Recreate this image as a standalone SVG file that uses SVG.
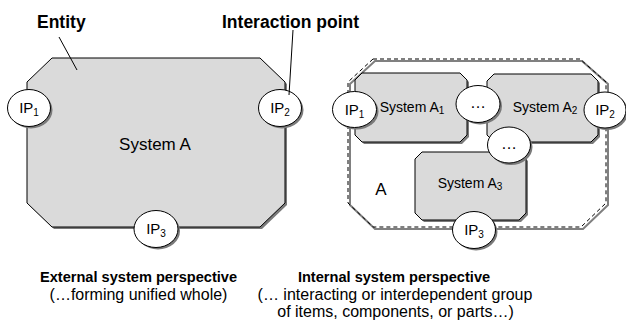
<svg xmlns="http://www.w3.org/2000/svg" width="626" height="326" viewBox="0 0 626 326">
<style>
.box{fill:#dadada;stroke:#000;stroke-width:1}
.sh{fill:#7a7a7a;stroke:none}
.ell{fill:#fff;stroke:#000;stroke-width:1}
.t{font-family:"Liberation Sans",Arial,sans-serif;fill:#000}
.lbl{font-size:17.5px;font-weight:bold}
.ip{font-size:15px}
.sub{font-size:10px}
.title{font-size:14.6px;font-weight:bold}
.cap{font-size:16px}
.dash{fill:none;stroke:#000;stroke-width:1;stroke-dasharray:4 3}
.dsh{fill:none;stroke:#808080;stroke-width:2}
.lead{stroke:#000;stroke-width:1;fill:none}
</style>
<rect width="626" height="326" fill="#fff"/>

<!-- Left: external perspective -->
<g id="systemA">
  <polygon class="sh" points="54,60 262,60 287,84 287,205 262,229 54,229 29,205 29,84"/>
  <polygon class="box" points="52,58 260,58 285,82 285,203 260,227 52,227 27,203 27,82"/>
  <text class="t" x="155" y="150" font-size="17" text-anchor="middle">System A</text>
</g>
<g id="ip1-left">
  <ellipse class="sh" cx="31" cy="110" rx="21.5" ry="18.5"/>
  <ellipse class="ell" cx="29" cy="108" rx="21.5" ry="18.5"/>
  <text class="t ip" x="29" y="113" text-anchor="middle">IP<tspan class="sub" dy="3">1</tspan></text>
</g>
<g id="ip2-left">
  <ellipse class="sh" cx="282" cy="110" rx="21.5" ry="18.5"/>
  <ellipse class="ell" cx="280" cy="108" rx="21.5" ry="18.5"/>
  <text class="t ip" x="280" y="113" text-anchor="middle">IP<tspan class="sub" dy="3">2</tspan></text>
</g>
<g id="ip3-left">
  <ellipse class="sh" cx="158" cy="231" rx="22" ry="18.5"/>
  <ellipse class="ell" cx="156" cy="229" rx="22" ry="18.5"/>
  <text class="t ip" x="156" y="234" text-anchor="middle">IP<tspan class="sub" dy="3">3</tspan></text>
</g>
<g id="label-entity">
  <text class="t lbl" x="37" y="28">Entity</text>
</g>
<g id="label-ip">
  <text class="t lbl" x="222" y="28">Interaction point</text>
</g>

<!-- Right: internal perspective -->
<g id="container">
  <polygon class="dsh" points="375,61 582,61 608,84 608,205 583,229 375,229 350,205 350,84"/>
  <polygon class="dash" points="373,59 580,59 606,82 606,203 581,227 373,227 348,203 348,82" fill="#fff"/>
  <text class="t" x="381" y="195" font-size="17" text-anchor="middle">A</text>
</g>
<g id="systemA1">
  <polygon class="sh" points="364,75 462,75 469,82 469,137 462,144 364,144 357,137 357,82"/>
  <polygon class="box" points="362,73 460,73 467,80 467,135 460,142 362,142 355,135 355,80"/>
  <text class="t" x="412" y="112" font-size="14" text-anchor="middle">System A<tspan font-size="10" dy="2">1</tspan></text>
</g>
<g id="systemA2">
  <polygon class="sh" points="496,76 593,76 600,83 600,137 593,144 496,144 489,137 489,83"/>
  <polygon class="box" points="494,74 591,74 598,81 598,135 591,142 494,142 487,135 487,81"/>
  <text class="t" x="545" y="112" font-size="14" text-anchor="middle">System A<tspan font-size="10" dy="2">2</tspan></text>
</g>
<g id="systemA3">
  <polygon class="sh" points="424,154 521,154 528,161 528,215 521,222 424,222 417,215 417,161"/>
  <polygon class="box" points="422,152 519,152 526,159 526,213 519,220 422,220 415,213 415,159"/>
  <text class="t" x="470" y="188" font-size="14" text-anchor="middle">System A<tspan font-size="10" dy="2">3</tspan></text>
</g>
<g id="ip1-right">
  <ellipse class="sh" cx="356.5" cy="111.5" rx="22" ry="18"/>
  <ellipse class="ell" cx="354.5" cy="109.5" rx="22" ry="18"/>
  <text class="t ip" x="354.5" y="114.5" text-anchor="middle">IP<tspan class="sub" dy="3">1</tspan></text>
</g>
<g id="ip2-right">
  <ellipse class="sh" cx="607" cy="112" rx="21" ry="18"/>
  <ellipse class="ell" cx="605" cy="110" rx="21" ry="18"/>
  <text class="t ip" x="605" y="115" text-anchor="middle">IP<tspan class="sub" dy="3">2</tspan></text>
</g>
<g id="dots1">
  <ellipse class="sh" cx="480" cy="106" rx="22" ry="18.5"/>
  <ellipse class="ell" cx="478" cy="104" rx="22" ry="18.5"/>
  <text class="t" x="478" y="108" font-size="16" text-anchor="middle">…</text>
</g>
<g id="dots2">
  <ellipse class="sh" cx="511" cy="147" rx="21.5" ry="18"/>
  <ellipse class="ell" cx="509" cy="145" rx="21.5" ry="18"/>
  <text class="t" x="509" y="149" font-size="16" text-anchor="middle">…</text>
</g>
<g id="ip3-right">
  <ellipse class="sh" cx="476" cy="232" rx="21.5" ry="18.5"/>
  <ellipse class="ell" cx="474" cy="230" rx="21.5" ry="18.5"/>
  <text class="t ip" x="474" y="235" text-anchor="middle">IP<tspan class="sub" dy="3">3</tspan></text>
</g>

<g id="connectors">
  <line class="lead" x1="59" y1="37" x2="77" y2="70"/>
  <line class="lead" x1="293" y1="30" x2="289" y2="95"/>
</g>

<g id="captions">
  <text class="t title" x="138.5" y="282" text-anchor="middle">External system perspective</text>
  <text class="t cap" x="138.5" y="300" text-anchor="middle">(…forming unified whole)</text>
  <text class="t title" x="394" y="282" text-anchor="middle">Internal system perspective</text>
  <text class="t cap" x="395" y="300" text-anchor="middle">(… interacting or interdependent group</text>
  <text class="t cap" x="395.5" y="317" text-anchor="middle">of items, components, or parts…)</text>
</g>
</svg>
